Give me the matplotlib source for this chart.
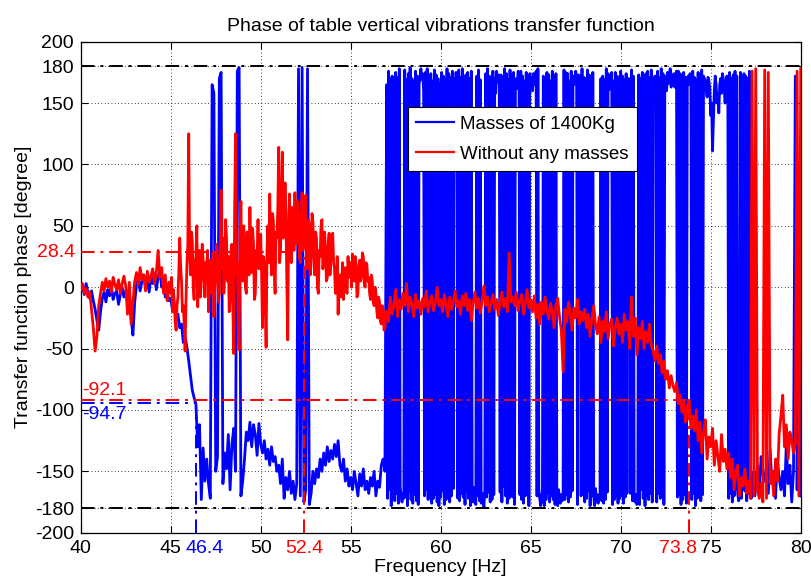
import numpy as np
import matplotlib
matplotlib.use("Agg")
import matplotlib.pyplot as plt
from matplotlib.ticker import FixedLocator

plt.rcParams['font.family'] = ['Liberation Sans', 'DejaVu Sans']

# ---------------- Data ----------------
# Masses of 1400 kg: samples every 0.1 Hz (40-56.9), 0.05 Hz (57-77.45), 0.1 Hz (77.5-80)
freq_mass = np.concatenate([np.linspace(40, 56.9, 170),
                            np.linspace(57, 77.45, 410),
                            np.linspace(77.5, 80, 26)])
phase_mass = [
    # 40.0 - 56.9 (0.1 Hz)
    -2, 1, -6, 3, -4, -9, -3, -11, -18, -27,
    -35, -20, -9, -4, -12, -2, -7, 1, -10, -5,
    -3, -14, -6, 0, -8, -3, -11, -5, -25, -39,
    -12, 2, 8, -3, 5, 10, 1, 6, -4, 9,
    3, 11, -2, 8, 14, 0, 6, -8, -3, -11,
    -9, -19, -14, -27, -22, -33, -30, -45, -40, -49,
    -60, -72, -84, -90, -95, -130, -112, -173, -131, -158,
    -140, -160, -172, 165, 158, -150, -138, 170, 175, -160,
    -135, -148, -120, -165, -128, -115, -150, 176, 179, -170,
    -158, -140, -118, -125, -110, -130, -112, -120, -137, -111,
    -128, -135, -125, -140, -132, -145, -130, -142, -138, -150,
    -145, -160, -140, -172, -155, -165, -150, -168, -158, -173,
    -160, 178, -170, 179, -175, -165, 178, -177, -168, -150,
    -160, -148, -155, -140, -150, -135, -145, -130, -142, -133,
    -140, -128, -138, -125, -145, -150, -140, -158, -148, -162,
    -155, -165, -150, -160, -170, -152, -162, -148, -165, -158,
    -168, -155, -162, -150, -170, -158, -163, -145, -140, -150,
    # 57.00 - 77.45 (0.05 Hz)
    165, -172, 176, -165, 170, -178, 172, -170, 168, -174,
    175, -168, 171, -176, 178, -163, -170, -175, -168, -172,
    177, -171, 169, -178, 174, -166, 179, -173, 170, -176,
    168, -169, 176, -174, 172, -177, 165, 171, 178, 169,
    174, 160, -170, 175, -165, 178, -173, 171, -168, 174,
    -176, 168, -172, 177, -169, 173, -175, 170, -178, 166,
    -171, 175, -166, 172, -177, 169, -173, 178, -168, 174,
    -175, 171, -170, 176, -164, 170, 163, 175, 168, -172,
    177, -174, 171, -168, 178, -171, 169, -177, 173, -166,
    175, -172, 170, -178, 176, -169, -175, -163, -171, -177,
    172, -170, 177, -174, 169, -176, -168, -172, -179, -165,
    174, -171, 178, -167, 172, -175, 170, -173, 176, -169,
    170, 158, 176, 168, 173, 165, -167, 173, -175, 171,
    -162, 178, -170, 174, -176, 169, -172, 177, -168, 173,
    -171, 175, -177, 166, 170, 162, 176, 172, -169, 176,
    -173, 172, -176, 168, -170, 175, -166, 171, -178, 174,
    168, 171, 160, 174, 170, 165, 176, -170, 178, -164,
    -172, -178, -169, -175, 172, -178, 169, -173, 175, -168,
    173, -175, 168, -170, 176, -173, 171, -177, 174, -170,
    -178, -165, -172, -176, -169, -174, -171, 177, -173, 175,
    -169, 174, -175, 168, -171, 176, -166, 172, 165, 170,
    176, 168, -177, 173, 168, 172, -170, 178, -168, 171,
    -175, 170, -172, 177, -166, 173, -178, 169, -170, 175,
    -170, -178, -164, -175, -169, -176, -172, -168, 170, -174,
    172, -176, 169, -173, 178, -167, 174, 161, 170, 166,
    175, -177, 168, -173, 175, -170, 172, -176, 169, -172,
    176, -170, 172, -176, 169, -171, 174, -168, 164, 170,
    168, -168, 177, -174, 172, -171, -175, -169, -177, -170,
    173, -177, 170, -165, 175, -172, 168, -178, 174, -170,
    176, -173, 171, -168, 177, -175, 170, 166, 172, 168,
    -175, 176, -168, 171, -172, 178, -170, 174, -177, 168,
    172, 160, 175, 166, 170, 178, 163, 171, 168, 174,
    163, 170, 176, -171, 176, -169, 174, -177, 170, -173,
    175, -169, 171, -176, 168, 172, 165, 174, 170, -173,
    176, -168, 171, -178, 169, -172, 175, -170, 172, -174,
    177, -169, 172, 170, 168, 160, 155, 171, 168, 162,
    140, 150, 111, 135, 160, 172, 165, 150, 158, 142,
    165, 170, 158, 174, 170, 162, 150, 168, 172, 166,
    -172, 175, -168, 170, -175, 173, -170, 176, -165, 172,
    -168, -174, -170, 175, -172, 170, 168, 174, -166, 172,
    -174, 170, -168, 176, -160, -172, -155, -165, -150, -170,
    # 77.5 - 80.0 (0.1 Hz)
    -160, -145, -168, -138, -152,
    -158, -145, -168, -132, -160, -150, -172, -140, -155, -165,
    -150, -170, -128, -160, -145, -175, -150, 172, -165, 15,
    -170,
]

# Without any masses: samples every 0.1 Hz (40-44.9), 0.05 Hz (45-56.95), 0.1 Hz (57-80)
freq_free = np.concatenate([np.linspace(40, 44.9, 50),
                            np.linspace(45, 56.95, 240),
                            np.linspace(57, 80, 231)])
phase_free = [
    # 40.0 - 44.9
    -2, 3, -5, -1, -8, -4, -18, -33, -52, -40,
    -15, -5, 4, -3, 7, 0, 5, -4, 8, 2,
    -2, 6, -5, 3, 9, 1, -22, 4, -30, -12,
    5, 12, 2, 16, 6, 10, -3, 13, 4, 9,
    15, 3, 12, 30, 8, 16, -5, 10, -11, 4,
    # 45.00 - 56.95
    -5, 8, -20, -2, -12, -28, -35, -15, -8, 12, 40, 18, 5, -20, -15, -30, -52, -10, 18, 35,
    125, 30, 10, 45, 38, 0, -10, 20, 25, 50, -16, 15, 30, -8, 5, 35, 22, 10, -8, 20,
    15, 30, -20, 5, 22, -5, 8, 28, -24, 0, 12, 35, 20, -12, -5, 30, 79, 15, 40, -5,
    10, 55, 40, 5, 25, -20, -10, 30, 35, -15, -54, 60, 125, 10, 20, -30, -51, 45, 70, 10,
    5, 50, 40, 0, -5, 45, 30, 10, 65, 20, 12, 48, 35, -10, -5, 30, 25, 55, 15, 35,
    43, 10, -33, 25, 20, -10, -49, 30, 50, 20, 76, 35, 10, 60, 55, 15, -5, 45, 40, 65,
    114, 20, 30, 70, 110, 40, 45, 85, 60, 5, -43, 50, 76, 35, 20, 65, 55, 30, 77, 40,
    35, 70, 60, 25, 20, 55, 77, 30, 45, 65, 75, 20, 15, 55, 50, 10, 30, 60, 54, 20,
    10, 45, 40, 0, -5, 30, 25, 50, 55, 15, 20, 45, 30, 5, 8, 35, 44, 10, 25, 40,
    44, 20, 15, -5, 0, 25, -22, 5, 10, -8, 5, 20, -10, 12, 16, -2, -5, 25, 8, 15,
    20, 0, 27, 10, 5, 25, 15, -8, -5, 18, 22, 5, 10, 28, 25, 3, 0, 20, 18, 5,
    8, -5, -10, 10, 5, -12, -15, 0, -5, -20, -25, -8, -12, -28, -30, -15, -18, -35, -33, -20,
    # 57.0 - 80.0
    -20, -28, -8, -22, -15, -2, -24, -10, -18, -5,
    -15, 3, -20, -8, -14, -24, -6, -17, -11, -22,
    -9, -16, -3, -20, -12, -7, -19, -13, 0, -15,
    -10, -20, -6, -14, -24, -8, -18, -12, -3, -16,
    -11, -22, -7, -15, -5, -19, -10, -27, -13, -4,
    -17, -9, -21, -12, 1, -15, -8, -20, -13, -6,
    -18, -10, -23, -12, -4, -16, -9, -20, 28, -12,
    -8, -15, -4, -19, -11, -6, -22, -13, -2, -17,
    -10, -20, -7, -25, -14, -30, -12, -22, -8, -18,
    -26, -13, -20, -33, -15, -9, -24, -35, -69, -18,
    -28, -12, -22, -35, -17, -25, -10, -30, -20, -27,
    -18, -33, -22, -40, -25, -15, -30, -38, -24, -45,
    -28, -36, -20, -42, -30, -26, -48, -33, -25, -38,
    -30, -45, -22, -35, -28, -50, -8, -40, -25, -55,
    -33, -42, -28, -50, -36, -45, -30, -48, -52, -60,
    -48, -62, -55, -70, -60, -75, -68, -82, -72, -80,
    -85, -78, -95, -88, -102, -92, -110, -97, -92, -115,
    -105, -117, -100, -125, -110, -135, -118, -108, -140, -122,
    -130, -115, -145, -125, -138, -150, -120, -142, -132, -148,
    -135, -155, -140, -165, -150, -145, -170, -155, -162, -148,
    -168, -158, -172, 176, -170, 178, -165, -172, -160, -175,
    177, -172, 175, -160, -150, -170, -140, -158, -120, -105,
    -88, -130, -112, -140, -118, -125, -135, -128, 176, -170,
    178,
]

series_labels = ["Masses of 1400Kg", "Without any masses"]

# Marked values
f_mass_mark, p_mass_mark = 46.4, -94.7
f_free_mark1, p_free_mark1 = 52.4, 28.4
f_free_mark2, p_free_mark2 = 73.8, -92.1

xticks = [40, 45, 50, 55, 60, 65, 70, 75, 80]
yticks = [-200, -180, -150, -100, -50, 0, 50, 100, 150, 180, 200]

# ---------------- Figure ----------------
fig = plt.figure(figsize=(8.12, 5.81), dpi=100)
ax = fig.add_axes([0.0994, 0.0831, 0.8867, 0.8451])

lw = 2.0
ax.plot(freq_mass, phase_mass, color=(0, 0, 1), lw=lw, label=series_labels[0], zorder=2)
ax.plot(freq_free, phase_free, color=(1, 0, 0), lw=lw, label=series_labels[1], zorder=3)

dd = (0, (7, 3, 1.5, 3))
ax.axhline(180, color='black', lw=1.4, ls=dd, zorder=5)
ax.axhline(-180, color='black', lw=1.4, ls=dd, zorder=5)

ax.plot([40, f_mass_mark], [p_mass_mark, p_mass_mark], color='blue', lw=1.4, ls=dd, zorder=6)
ax.plot([f_mass_mark, f_mass_mark], [-200, p_mass_mark], color='blue', lw=1.4, ls=dd, zorder=6)
ax.plot([40, f_free_mark1], [p_free_mark1, p_free_mark1], color='red', lw=1.4, ls=dd, zorder=6)
ax.plot([f_free_mark1, f_free_mark1], [-200, p_free_mark1], color='red', lw=1.4, ls=dd, zorder=6)
ax.plot([40, f_free_mark2], [p_free_mark2, p_free_mark2], color='red', lw=1.4, ls=dd, zorder=6)
ax.plot([f_free_mark2, f_free_mark2], [-200, p_free_mark2], color='red', lw=1.4, ls=dd, zorder=6)

ax.set_xlim(40, 80)
ax.set_ylim(-200, 200)
ax.xaxis.set_major_locator(FixedLocator(xticks))
ax.yaxis.set_major_locator(FixedLocator(yticks))
ax.set_xticklabels([str(v) for v in xticks])
ax.set_yticklabels([str(v) for v in yticks])
ax.tick_params(direction='in', length=5, width=0.8, top=True, right=True,
               labelsize=14, pad=5)
ax.grid(True, ls=(0, (1, 3)), color='black', lw=0.6)
for s in ax.spines.values():
    s.set_linewidth(0.9)

fs = 14
ax.annotate(f"{f_mass_mark}", xy=(f_mass_mark, 0), xycoords=('data', 'axes fraction'),
            xytext=(6, -5), textcoords='offset points', ha='center', va='top',
            color='blue', fontsize=fs)
ax.annotate(f"{f_free_mark1}", xy=(f_free_mark1, 0), xycoords=('data', 'axes fraction'),
            xytext=(0, -5), textcoords='offset points', ha='center', va='top',
            color='red', fontsize=fs)
ax.annotate(f"{f_free_mark2}", xy=(f_free_mark2, 0), xycoords=('data', 'axes fraction'),
            xytext=(-8, -5), textcoords='offset points', ha='center', va='top',
            color='red', fontsize=fs)
ax.annotate(f"{p_free_mark1}", xy=(0, p_free_mark1), xycoords=('axes fraction', 'data'),
            xytext=(-4, 0), textcoords='offset points', ha='right', va='center',
            color='red', fontsize=fs)
ax.text(40.08, -84, f"{p_free_mark2}", color='red', fontsize=fs, ha='left', va='center', zorder=7)
ax.text(40.08, -104, f"{p_mass_mark}", color='blue', fontsize=fs, ha='left', va='center', zorder=7)

ax.set_title("Phase of table vertical vibrations transfer function", fontsize=fs, pad=8)
ax.set_xlabel("Frequency [Hz]", fontsize=fs, labelpad=2)
ax.set_ylabel("Transfer function phase [degree]", fontsize=fs, labelpad=2)

leg = ax.legend(loc='upper left', bbox_to_anchor=(0.4546, 0.867), fontsize=13.5,
                frameon=True, fancybox=False, framealpha=1, edgecolor='black',
                handlelength=2.0, handletextpad=0.3, labelspacing=0.7,
                borderpad=0.45, borderaxespad=0)
leg.get_frame().set_linewidth(0.8)
for h in leg.get_lines():
    h.set_linewidth(1.6)
leg.set_zorder(10)

fig.savefig("out.png", dpi=100)
